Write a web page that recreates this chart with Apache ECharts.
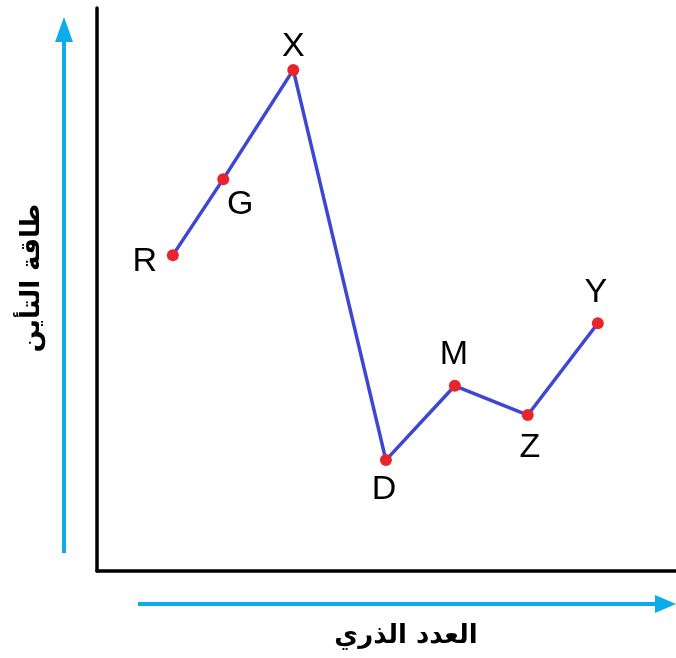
<!DOCTYPE html>
<html>
<head>
<meta charset="utf-8">
<script src="https://cdn.jsdelivr.net/npm/echarts@6/dist/echarts.min.js"></script>
<style>html,body{margin:0;padding:0;background:#fff}#c{width:676px;height:658px}</style>
</head>
<body>
<div id="c"></div>
<script>
// ---- data ----
const elements = ['R', 'G', 'X', 'D', 'M', 'Z', 'Y'];
const atomicPos = [13.1, 21.8, 33.9, 49.9, 61.8, 74.4, 86.5];
const ionEnergy = [56.1, 69.6, 89.0, 19.7, 32.9, 27.7, 44.0];
const xTitle = 'العدد الذري';
const yTitle = 'طاقة التأين';

// ---- styles ----
const labelOffsets = {
  R: [-28, 6], G: [17, 25], X: [0, -23], D: [-2, 30],
  M: [-1, -31], Z: [2, 33], Y: [-2, -31]
};
const ARROW = '#0AACEB';

const chart = echarts.init(document.getElementById('c'), null, {renderer: 'canvas'});
const seriesData = elements.map((n, i) => ({
  name: n,
  value: [atomicPos[i], ionEnergy[i]],
  label: {offset: labelOffsets[n]}
}));

chart.setOption({
  animation: false,
  backgroundColor: '#fff',
  grid: {left: 97, right: 0, top: 8, bottom: 87},
  xAxis: {
    type: 'value', min: 0, max: 100,
    axisLine: {show: true, lineStyle: {color: '#000', width: 3.5}},
    axisTick: {show: false}, axisLabel: {show: false}, splitLine: {show: false}
  },
  yAxis: {
    type: 'value', min: 0, max: 100,
    axisLine: {show: true, lineStyle: {color: '#000', width: 3.5}},
    axisTick: {show: false}, axisLabel: {show: false}, splitLine: {show: false}
  },
  series: [{
    type: 'line',
    data: seriesData,
    lineStyle: {color: '#3F46D2', width: 3.5},
    symbol: 'circle', symbolSize: 12,
    itemStyle: {color: '#E8252B'},
    z: 3,
    label: {
      show: true, position: 'inside',
      formatter: p => p.name,
      fontFamily: 'Liberation Sans, Arial, sans-serif',
      fontSize: 34, color: '#000',
      align: 'center', verticalAlign: 'middle'
    }
  }],
  graphic: [
    // vertical arrow
    {type: 'line', shape: {x1: 64, y1: 553, x2: 64, y2: 38}, style: {stroke: ARROW, lineWidth: 4}},
    {type: 'polygon', shape: {points: [[64, 17], [55, 42], [73, 42]]}, style: {fill: ARROW}},
    // horizontal arrow
    {type: 'line', shape: {x1: 138, y1: 604, x2: 660, y2: 604}, style: {stroke: ARROW, lineWidth: 4}},
    {type: 'polygon', shape: {points: [[676, 604], [655, 595], [655, 613]]}, style: {fill: ARROW}},
    // titles
    {type: 'text', x: 406, y: 636, style: {text: xTitle, font: 'bold 26px "DejaVu Sans", "Noto Sans", sans-serif', fill: '#000', textAlign: 'center', textVerticalAlign: 'middle'}},
    {type: 'text', x: 32, y: 278, rotation: Math.PI / 2, style: {text: yTitle, font: 'bold 26px "DejaVu Sans", "Noto Sans", sans-serif', fill: '#000', textAlign: 'center', textVerticalAlign: 'middle'}}
  ]
});
</script>
</body>
</html>
